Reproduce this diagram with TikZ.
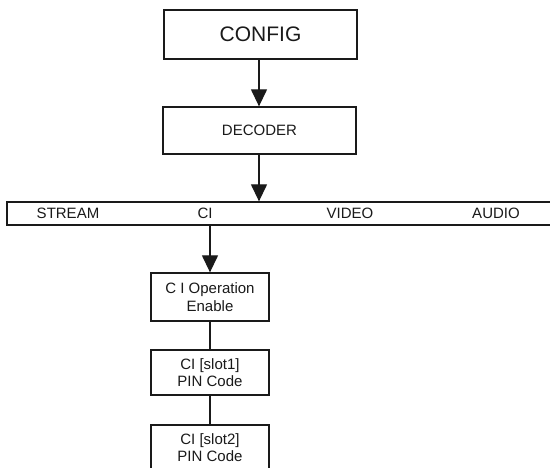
\documentclass[tikz,border=0pt]{standalone}
\usepackage{fontspec}
\setmainfont{Liberation Sans}
\usetikzlibrary{arrows.meta}
\definecolor{ink}{HTML}{1A1A1A}
\tikzset{
  box/.style={draw=ink, line width=1.3pt, fill=white, text=ink, align=center,
    inner sep=0pt, font=\fontsize{15}{17.5}\selectfont},
  barlabel/.style={text=ink, inner sep=0pt, font=\fontsize{15}{17}\selectfont},
  link/.style={draw=ink, line width=1.3pt},
  arr/.style={link, -{Triangle[length=17pt,width=16pt]}}
}
\begin{document}
\begin{tikzpicture}[x=1pt,y=-1pt]
  \useasboundingbox (0,0) rectangle (550,468);

  % top of the menu tree
  \node[box, minimum width=193pt, minimum height=49pt,
        font=\fontsize{21}{24}\selectfont] (config) at (260.5,34.5) {CONFIG};
  \node[box, minimum width=193pt, minimum height=47pt] (decoder) at (259.5,130.5) {DECODER};

  % menu bar (runs off the right edge)
  \node[box, minimum width=553pt, minimum height=23pt] (bar) at (283.5,213.5) {};
  \node[barlabel] (stream) at (68,213.5) {STREAM};
  \node[barlabel] (ci) at (205,213.5) {CI};
  \node[barlabel] (video) at (350,213.5) {VIDEO};
  \node[barlabel] (audio) at (496,213.5) {AUDIO};

  % CI sub-menu
  \node[box, minimum width=118pt, minimum height=48pt] (enable) at (210,297) {C I Operation\\Enable};
  \node[box, minimum width=118pt, minimum height=45pt] (slot1) at (210,372.5) {CI [slot1]\\PIN Code};
  \node[box, minimum width=118pt, minimum height=45pt] (slot2) at (210,447.5) {CI [slot2]\\PIN Code};

  % connectors
  \draw[arr] (config.south -| 259,0) -- (decoder.north -| 259,0);
  \draw[arr] (decoder.south -| 259,0) -- (bar.north -| 259,0);
  \draw[arr] (enable.north |- bar.south) -- (enable.north);
  \draw[link] (enable.south) -- (slot1.north);
  \draw[link] (slot1.south) -- (slot2.north);
\end{tikzpicture}
\end{document}
